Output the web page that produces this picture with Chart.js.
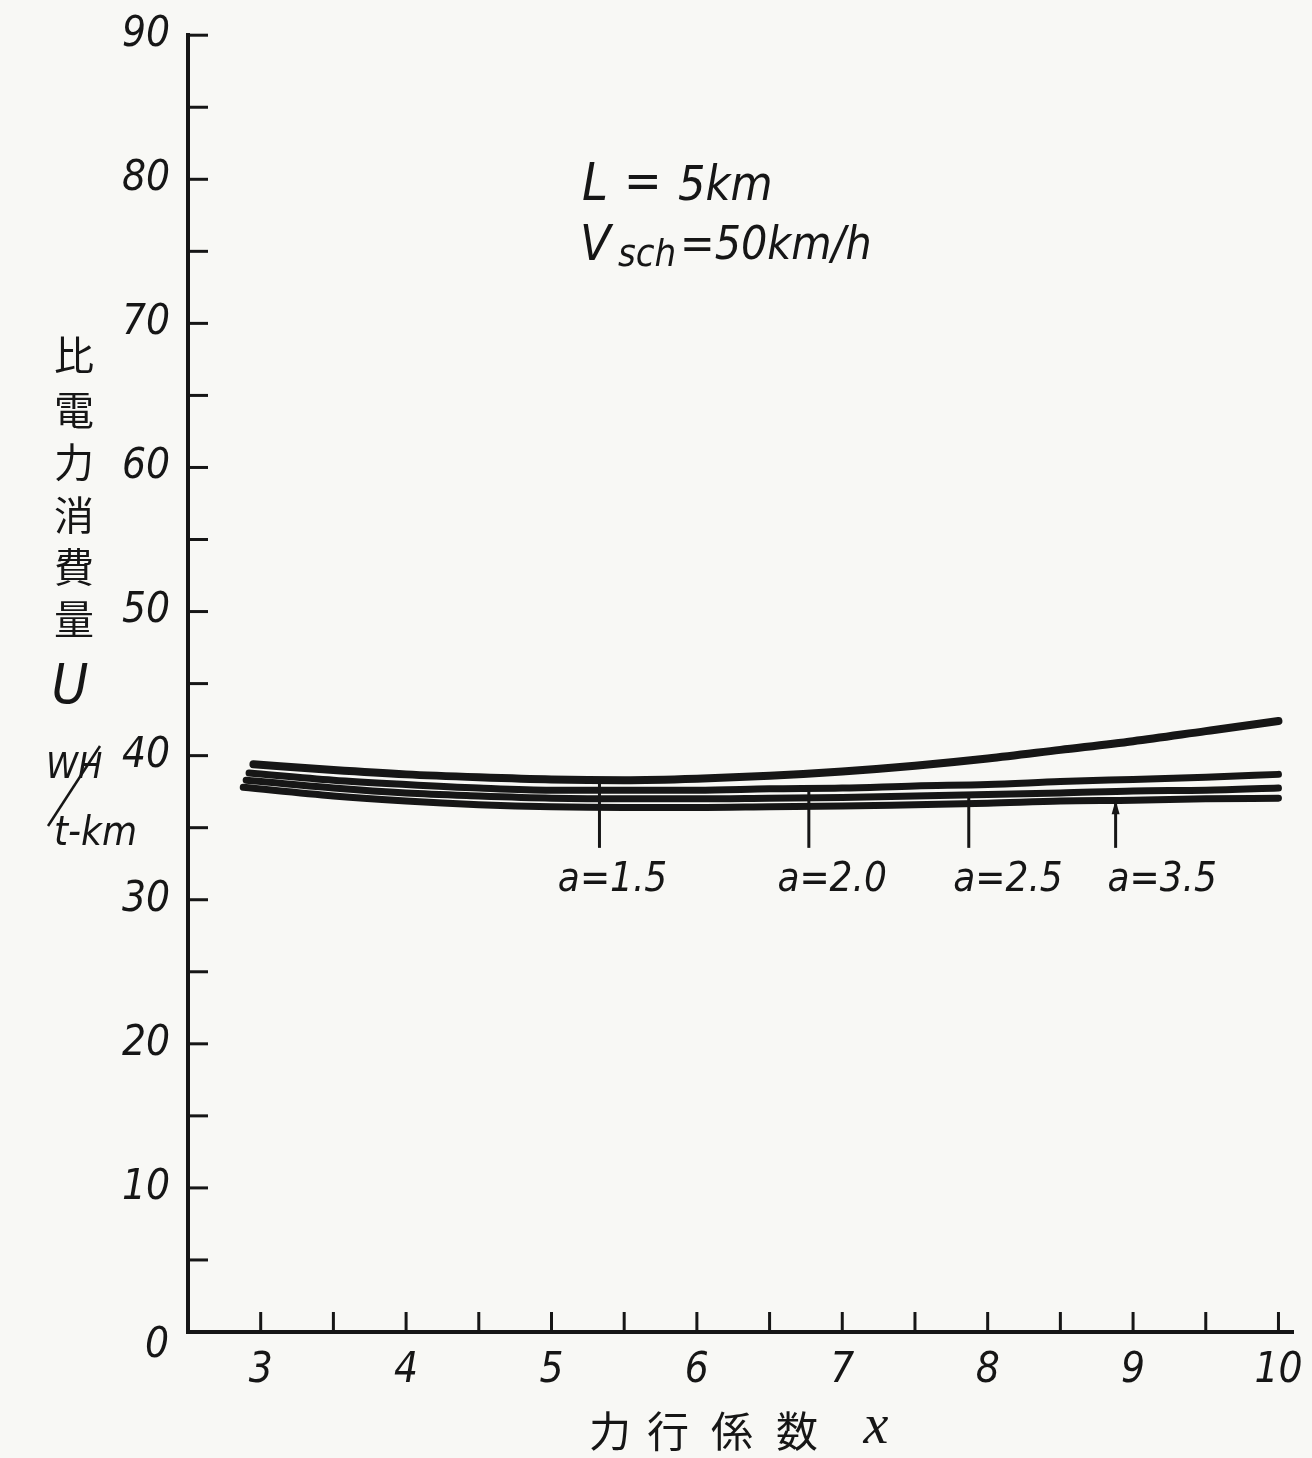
<!DOCTYPE html>
<html>
<head>
<meta charset="utf-8">
<script src="https://cdn.jsdelivr.net/npm/chart.js@4"></script>
<style>
  html, body { margin: 0; padding: 0; background: #f8f8f5; }
  canvas { display: block; }
</style>
</head>
<body>
<canvas id="chart" width="1312" height="1458"></canvas>
<script>
// 力行係数 x (horizontal) against 比電力消費量 U [WH/t-km], L = 5 km, Vsch = 50 km/h
const x_a15 = [2.95, 3.5, 4, 4.5, 5, 5.5, 6, 6.5, 7, 7.5, 8, 8.5, 9, 9.5, 10];
const u_a15 = [39.4, 39.0, 38.7, 38.5, 38.35, 38.3, 38.4, 38.6, 38.9, 39.3, 39.8, 40.4, 41.0, 41.7, 42.4];

const x_a20 = [2.92, 3.5, 4, 4.5, 5, 5.5, 6, 6.5, 7, 7.5, 8, 8.5, 9, 9.5, 10];
const u_a20 = [38.8, 38.3, 38.0, 37.75, 37.6, 37.6, 37.6, 37.7, 37.75, 37.9, 38.0, 38.2, 38.35, 38.5, 38.7];

const x_a25 = [2.9, 3.5, 4, 4.5, 5, 5.5, 6, 6.5, 7, 7.5, 8, 8.5, 9, 9.5, 10];
const u_a25 = [38.3, 37.75, 37.4, 37.2, 37.05, 37.0, 37.0, 37.05, 37.1, 37.2, 37.3, 37.4, 37.55, 37.6, 37.75];

const x_a35 = [2.88, 3.5, 4, 4.5, 5, 5.5, 6, 6.5, 7, 7.5, 8, 8.5, 9, 9.5, 10];
const u_a35 = [37.8, 37.2, 36.85, 36.6, 36.45, 36.4, 36.4, 36.45, 36.5, 36.6, 36.7, 36.85, 36.9, 37.0, 37.05];

// curve labels with their leader lines
const curveLabels = ['a=1.5', 'a=2.0', 'a=2.5', 'a=3.5'];
const leaderX = [5.33, 6.77, 7.87, 8.88];
const leaderTopU = [38.3, 37.7, 37.3, 36.9];
const leaderEndU = 33.6;
const labelX = [5.42, 6.93, 8.14, 9.2];
const labelU = 31.3;

// axis settings
const xMin = 2.5, xMax = 10.1, xStep = 0.5;
const yMin = 0, yMax = 90, yStep = 5;

const INK = '#161616';
const NUM_FONT = "'Liberation Sans Narrow', 'DejaVu Sans Condensed', 'Liberation Sans', sans-serif";
const CJK_FONT = "'Noto Sans CJK JP', 'Noto Sans CJK SC', sans-serif";

function toPoints(xs, us) {
  return xs.map((v, i) => ({ x: v, y: us[i] }));
}

const series = [
  { label: 'a=1.5', xs: x_a15, us: u_a15, width: 8 },
  { label: 'a=2.0', xs: x_a20, us: u_a20, width: 7 },
  { label: 'a=2.5', xs: x_a25, us: u_a25, width: 7 },
  { label: 'a=3.5', xs: x_a35, us: u_a35, width: 7 }
];

function seg(ctx, x1, y1, x2, y2) {
  ctx.beginPath();
  ctx.moveTo(x1, y1);
  ctx.lineTo(x2, y2);
  ctx.stroke();
}

const platePlugin = {
  id: 'plate',
  beforeDraw(chart) {
    const { ctx, width, height } = chart;
    ctx.save();
    ctx.fillStyle = '#f8f8f5';
    ctx.fillRect(0, 0, width, height);
    ctx.restore();
  },
  afterDraw(chart) {
    const { ctx, chartArea, scales } = chart;
    const xs = scales.x, ys = scales.y;
    ctx.save();
    ctx.strokeStyle = INK;
    ctx.fillStyle = INK;
    ctx.lineCap = 'butt';

    // tick marks pointing into the plot
    ctx.lineWidth = 3;
    ys.ticks.forEach(t => {
      if (t.value <= 0) return;
      const py = ys.getPixelForValue(t.value);
      seg(ctx, chartArea.left, py, chartArea.left + 20, py);
    });
    xs.ticks.forEach(t => {
      if (t.value < 3) return;
      const px = xs.getPixelForValue(t.value);
      seg(ctx, px, chartArea.bottom, px, chartArea.bottom - 20);
    });

    // origin label
    ctx.font = "italic 42px " + NUM_FONT;
    ctx.textAlign = 'center';
    ctx.textBaseline = 'middle';
    ctx.fillText('0', 157, ys.getPixelForValue(0) + 14);

    // leader lines and curve labels
    ctx.lineWidth = 3;
    curveLabels.forEach((txt, i) => {
      const px = xs.getPixelForValue(leaderX[i]);
      const top = ys.getPixelForValue(leaderTopU[i]);
      const bot = ys.getPixelForValue(leaderEndU);
      seg(ctx, px, top, px, bot);
      if (i === curveLabels.length - 1) {
        ctx.beginPath();
        ctx.moveTo(px, top);
        ctx.lineTo(px - 4, top + 14);
        ctx.lineTo(px + 4, top + 14);
        ctx.closePath();
        ctx.fill();
      }
      ctx.font = "italic 40px " + NUM_FONT;
      ctx.textAlign = 'center';
      ctx.textBaseline = 'middle';
      ctx.fillText(txt, xs.getPixelForValue(labelX[i]), ys.getPixelForValue(labelU));
    });

    // condition note
    ctx.textAlign = 'left';
    ctx.textBaseline = 'alphabetic';
    ctx.font = "italic 52px " + NUM_FONT;
    ctx.fillText('L', 582, 200);
    ctx.font = "italic 50px " + NUM_FONT;
    ctx.fillText('=', 624, 198);
    ctx.font = "italic 48px " + NUM_FONT;
    ctx.fillText('5km', 678, 200);
    ctx.font = "italic 50px " + NUM_FONT;
    ctx.fillText('V', 580, 260);
    ctx.font = "italic 38px " + NUM_FONT;
    ctx.fillText('sch', 618, 266);
    ctx.font = "italic 46px " + NUM_FONT;
    ctx.fillText('=50km/h', 680, 259);

    // vertical axis title
    ctx.textAlign = 'center';
    ctx.textBaseline = 'middle';
    ctx.font = "40px " + CJK_FONT;
    const yTitle = ['比', '電', '力', '消', '費', '量'];
    const yTitleCy = [355, 410, 462, 515, 567, 619];
    yTitle.forEach((ch, i) => ctx.fillText(ch, 74, yTitleCy[i]));
    ctx.font = "italic 56px " + NUM_FONT;
    ctx.fillText('U', 70, 688);
    ctx.textAlign = 'left';
    ctx.textBaseline = 'alphabetic';
    ctx.font = "italic 36px " + NUM_FONT;
    ctx.fillText('WH', 46, 778);
    ctx.lineWidth = 2.5;
    seg(ctx, 100, 746, 48, 826);
    ctx.font = "italic 40px " + NUM_FONT;
    ctx.fillText('t-km', 54, 845);

    // horizontal axis title
    ctx.textAlign = 'center';
    ctx.textBaseline = 'middle';
    ctx.font = "42px " + CJK_FONT;
    const xTitle = ['力', '行', '係', '数'];
    const xTitleCx = [610, 668, 732, 797];
    xTitle.forEach((ch, i) => ctx.fillText(ch, xTitleCx[i], 1431));
    ctx.font = "italic 56px 'Liberation Serif', 'DejaVu Serif', serif";
    ctx.fillText('x', 876, 1428);

    ctx.restore();
  }
};

new Chart(document.getElementById('chart').getContext('2d'), {
  type: 'line',
  data: {
    datasets: series.map(s => ({
      label: s.label,
      data: toPoints(s.xs, s.us),
      borderColor: INK,
      borderWidth: s.width,
      borderCapStyle: 'round',
      borderJoinStyle: 'round',
      cubicInterpolationMode: 'monotone',
      pointRadius: 0,
      fill: false
    }))
  },
  options: {
    responsive: false,
    animation: false,
    events: [],
    layout: { padding: { left: 0, top: 35, right: 19, bottom: 0 } },
    plugins: {
      legend: { display: false },
      tooltip: { enabled: false }
    },
    scales: {
      x: {
        type: 'linear',
        min: xMin,
        max: xMax,
        grid: { display: false },
        border: { display: true, color: INK, width: 4 },
        ticks: {
          stepSize: xStep,
          includeBounds: false,
          autoSkip: false,
          maxRotation: 0,
          minRotation: 0,
          padding: 6,
          color: INK,
          font: { family: NUM_FONT, size: 42, style: 'italic' },
          callback: v => (Number.isInteger(v) && v >= 3) ? String(v) : ''
        },
        afterFit: s => { s.height = 126; }
      },
      y: {
        type: 'linear',
        min: yMin,
        max: yMax,
        grid: { display: false },
        border: { display: true, color: INK, width: 4 },
        ticks: {
          stepSize: yStep,
          autoSkip: false,
          padding: 10,
          color: INK,
          font: { family: NUM_FONT, size: 42, style: 'italic' },
          callback: v => (v % 10 === 0 && v > 0) ? String(v) : ''
        },
        afterFit: s => { s.width = 188; }
      }
    }
  },
  plugins: [platePlugin]
});
</script>
</body>
</html>
